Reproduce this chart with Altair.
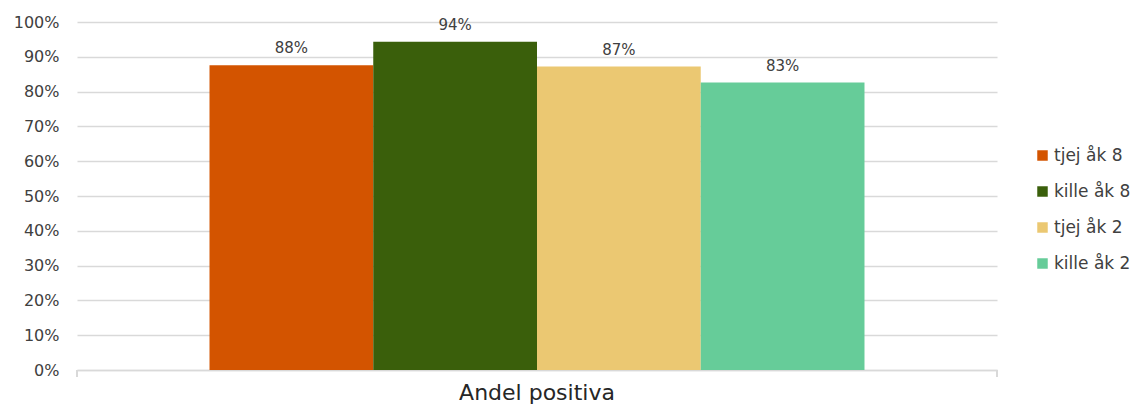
import altair as alt
import pandas as pd

category = ["Andel positiva"]
series = ["tjej åk 8", "kille åk 8", "tjej åk 2", "kille åk 2"]
values = [0.876, 0.943, 0.872, 0.826]
colors = ["#D35400", "#3A5F0B", "#EBC872", "#66CC99"]

df = pd.DataFrame({
    "cat": category * len(series),
    "series": series,
    "value": values,
})

FONT = "DejaVu Sans"

x = alt.X("cat:N", title=None,
          scale=alt.Scale(paddingInner=0, paddingOuter=0.2023),
          axis=alt.Axis(labelAngle=0, labelFontSize=22, labelColor="#262626",
                        labelFont=FONT, ticks=False, domain=True, grid=False,
                        domainColor="#d9d9d9", domainWidth=1.5,
                        labelPadding=12))
xo = alt.XOffset("series:N", sort=series, scale=alt.Scale(paddingInner=0, paddingOuter=0))
y = alt.Y("value:Q", title=None,
          scale=alt.Scale(domain=[0, 1]),
          axis=alt.Axis(format=".0%", values=[i / 10 for i in range(11)],
                        labelFontSize=16, labelColor="#404040", labelFont=FONT,
                        domain=False, ticks=False, labelPadding=18,
                        gridColor="#d9d9d9", gridWidth=1.5))

bars = alt.Chart(df).mark_bar().encode(
    x=x, xOffset=xo, y=y,
    color=alt.Color("series:N", sort=series,
                    scale=alt.Scale(domain=series, range=colors),
                    legend=alt.Legend(title=None, orient="none", legendX=957, legendY=125,
                                      symbolType="square", symbolSize=110,
                                      symbolStrokeWidth=0,
                                      labelFontSize=17, labelFont=FONT,
                                      labelColor="#404040", rowPadding=18,
                                      labelOffset=3)),
)

labels = alt.Chart(df).mark_text(dy=-17, fontSize=15, font=FONT, color="#404040").encode(
    x=x, xOffset=xo, y=y,
    text=alt.Text("value:Q", format=".0%"),
)

tick_left = alt.Chart(df).mark_rule(color="#d9d9d9", strokeWidth=1.5).encode(
    x=alt.value(0), y=alt.value(348), y2=alt.value(355),
)
tick_right = alt.Chart(df).mark_rule(color="#d9d9d9", strokeWidth=1.5).encode(
    x=alt.value(920), y=alt.value(348), y2=alt.value(355),
)

chart = alt.layer(bars, labels, tick_left, tick_right).properties(
    width=920, height=348,
    background="white",
    autosize=alt.AutoSizeParams(type="none"),
    padding={"left": 69, "top": 14, "right": 135, "bottom": 34},
).configure_view(strokeWidth=0)

chart.save("out.html", embed_options={"renderer": "svg", "actions": False})
